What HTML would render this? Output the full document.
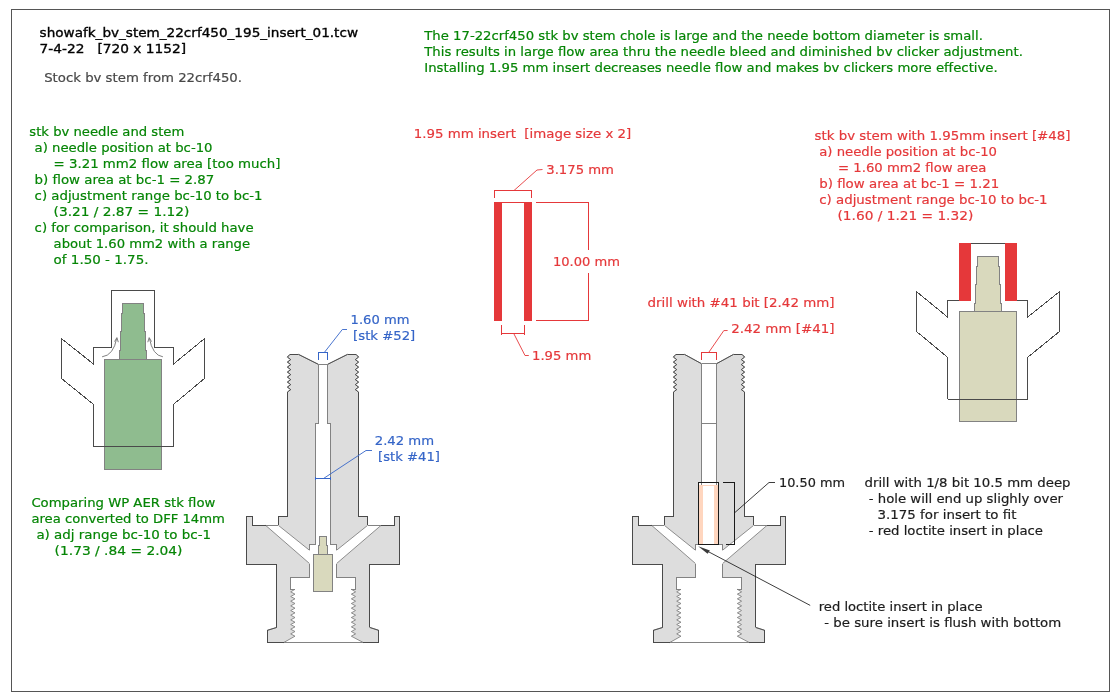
<!DOCTYPE html>
<html lang="en"><head><meta charset="utf-8"><title>showafk_bv_stem_22crf450_195_insert_01</title>
<style>html,body{margin:0;padding:0;background:#fff;}body{width:1120px;height:700px;overflow:hidden;}svg{display:block;will-change:transform;}text{font-family:"DejaVu Sans", "Liberation Sans", sans-serif;}</style>
</head><body>
<svg width="1120" height="700" viewBox="0 0 1120 700" shape-rendering="crispEdges">
<rect x="0" y="0" width="1120" height="700" fill="#ffffff"/>
<rect x="11.3" y="9.4" width="1098.4" height="682" fill="none" stroke="#555555" stroke-width="1"/>
<path d="M93.40 446.40 L93.40 404.30 L61.40 378.40 L61.40 338.50 L93.40 364.00 L93.40 347.10 L111.40 347.10 L111.40 290.40 L154.60 290.40 L154.60 347.10 L173.60 347.10 L173.60 364.00 L204.60 338.50 L204.60 378.40 L173.60 404.30 L173.60 446.40 L93.40 446.40" fill="none" stroke="#4a4a4a" stroke-width="1"/>
<path d="M122.50 303.40 L143.50 303.40 L143.50 313.00 L144.50 313.00 L144.50 331.50 L145.50 331.50 L145.50 350.00 L146.50 350.00 L146.50 359.10 L119.50 359.10 L119.50 350.00 L120.50 350.00 L120.50 331.50 L121.50 331.50 L121.50 313.00 L122.50 313.00 Z" fill="#8fbc8f" stroke="#828282" stroke-width="1"/>
<path d="M104.30 359.10 L161.80 359.10 L161.80 469.40 L104.30 469.40 Z" fill="#8fbc8f" stroke="#828282" stroke-width="1"/>
<path d="M93.40 446.40 L173.60 446.40" fill="none" stroke="#4a4a4a" stroke-width="1"/>
<path d="M102.1 356.8 Q113.5 355.5 116.8 338" fill="none" stroke="#7a7a7a" stroke-width="0.95" shape-rendering="geometricPrecision"/>
<path d="M114.6 341.6 L116.9 337.6 L118.3 342.2" fill="none" stroke="#7a7a7a" stroke-width="0.95" shape-rendering="geometricPrecision"/>
<path d="M162.9 356.8 Q152.6 355.5 149.3 338" fill="none" stroke="#7a7a7a" stroke-width="0.95" shape-rendering="geometricPrecision"/>
<path d="M151.5 341.6 L149.2 337.6 L147.8 342.2" fill="none" stroke="#7a7a7a" stroke-width="0.95" shape-rendering="geometricPrecision"/>
<path d="M947.50 399.40 L947.50 357.30 L916.40 331.40 L916.40 291.50 L947.50 317.00 L947.50 300.10 L966.40 300.10 L966.40 243.40 L1009.60 243.40 L1009.60 300.10 L1027.70 300.10 L1027.70 317.00 L1059.60 291.50 L1059.60 331.40 L1027.70 357.30 L1027.70 399.40 L947.50 399.40" fill="none" stroke="#4a4a4a" stroke-width="1"/>
<rect x="959.10" y="242.95" width="11.9" height="57.7" fill="#e5383a"/>
<rect x="1005.10" y="242.95" width="11.9" height="57.7" fill="#e5383a"/>
<path d="M977.50 256.40 L998.50 256.40 L998.50 266.00 L999.50 266.00 L999.50 284.50 L1000.50 284.50 L1000.50 303.00 L1001.50 303.00 L1001.50 311.10 L974.50 311.10 L974.50 303.00 L975.50 303.00 L975.50 284.50 L976.50 284.50 L976.50 266.00 L977.50 266.00 Z" fill="#d9d9bd" stroke="#828282" stroke-width="1"/>
<path d="M959.30 311.10 L1016.80 311.10 L1016.80 421.70 L959.30 421.70 Z" fill="#d9d9bd" stroke="#828282" stroke-width="1"/>
<path d="M947.50 399.40 L1027.70 399.40" fill="none" stroke="#4a4a4a" stroke-width="1"/>
<path d="M318.30 364.30 L298.30 354.30 L290.00 354.30 L287.40 357.10 L290.70 359.60 L287.40 362.10 L290.70 364.60 L287.40 367.10 L290.70 369.60 L287.40 372.10 L290.70 374.60 L287.40 377.10 L290.70 379.60 L287.40 382.10 L290.70 384.60 L287.40 387.10 L290.70 389.60 L287.40 392.10 L287.40 393.20 L287.40 516.40 L278.40 516.40 L278.40 525.40 L309.50 550.30 L309.50 544.40 L315.50 544.40 L315.50 423.30 L318.30 423.30 Z" fill="#dddddd" stroke="none"/>
<path d="M298.30 354.30 L290.00 354.30 M287.40 392.10 L287.40 393.20 L287.40 516.40 L278.40 516.40 L278.40 525.40 M309.50 550.30 L309.50 544.40 L315.50 544.40 L315.50 423.30 L318.30 423.30 L318.30 364.30" fill="none" stroke="#828282" stroke-width="1" stroke-linejoin="miter"/>
<path d="M318.30 364.30 L298.30 354.30 M290.00 354.30 L287.40 357.10 L290.70 359.60 L287.40 362.10 L290.70 364.60 L287.40 367.10 L290.70 369.60 L287.40 372.10 L290.70 374.60 L287.40 377.10 L290.70 379.60 L287.40 382.10 L290.70 384.60 L287.40 387.10 L290.70 389.60 L287.40 392.10 M278.40 525.40 L309.50 550.30" fill="none" stroke="#828282" stroke-width="0.9" stroke-linejoin="bevel" shape-rendering="geometricPrecision"/>
<path d="M327.70 364.30 L347.70 354.30 L356.00 354.30 L358.60 357.10 L355.30 359.60 L358.60 362.10 L355.30 364.60 L358.60 367.10 L355.30 369.60 L358.60 372.10 L355.30 374.60 L358.60 377.10 L355.30 379.60 L358.60 382.10 L355.30 384.60 L358.60 387.10 L355.30 389.60 L358.60 392.10 L358.60 393.20 L358.60 516.40 L367.60 516.40 L367.60 525.40 L336.50 550.30 L336.50 544.40 L330.50 544.40 L330.50 423.30 L327.70 423.30 Z" fill="#dddddd" stroke="none"/>
<path d="M347.70 354.30 L356.00 354.30 M358.60 392.10 L358.60 393.20 L358.60 516.40 L367.60 516.40 L367.60 525.40 M336.50 550.30 L336.50 544.40 L330.50 544.40 L330.50 423.30 L327.70 423.30 L327.70 364.30" fill="none" stroke="#828282" stroke-width="1" stroke-linejoin="miter"/>
<path d="M327.70 364.30 L347.70 354.30 M356.00 354.30 L358.60 357.10 L355.30 359.60 L358.60 362.10 L355.30 364.60 L358.60 367.10 L355.30 369.60 L358.60 372.10 L355.30 374.60 L358.60 377.10 L355.30 379.60 L358.60 382.10 L355.30 384.60 L358.60 387.10 L355.30 389.60 L358.60 392.10 M367.60 525.40 L336.50 550.30" fill="none" stroke="#828282" stroke-width="0.9" stroke-linejoin="bevel" shape-rendering="geometricPrecision"/>
<path d="M298.30 354.30 L290.00 354.30 M287.40 392.10 L287.40 393.20 L287.40 516.40 L278.40 516.40 L278.40 525.40" fill="none" stroke="#4a4a4a" stroke-width="1" stroke-linejoin="miter"/>
<path d="M318.30 364.30 L298.30 354.30 M290.00 354.30 L287.40 357.10 L290.70 359.60 L287.40 362.10 L290.70 364.60 L287.40 367.10 L290.70 369.60 L287.40 372.10 L290.70 374.60 L287.40 377.10 L290.70 379.60 L287.40 382.10 L290.70 384.60 L287.40 387.10 L290.70 389.60 L287.40 392.10" fill="none" stroke="#4a4a4a" stroke-width="0.9" stroke-linejoin="bevel" shape-rendering="geometricPrecision"/>
<path d="M347.70 354.30 L356.00 354.30 M358.60 392.10 L358.60 393.20 L358.60 516.40 L367.60 516.40 L367.60 525.40" fill="none" stroke="#4a4a4a" stroke-width="1" stroke-linejoin="miter"/>
<path d="M327.70 364.30 L347.70 354.30 M356.00 354.30 L358.60 357.10 L355.30 359.60 L358.60 362.10 L355.30 364.60 L358.60 367.10 L355.30 369.60 L358.60 372.10 L355.30 374.60 L358.60 377.10 L355.30 379.60 L358.60 382.10 L355.30 384.60 L358.60 387.10 L355.30 389.60 L358.60 392.10" fill="none" stroke="#4a4a4a" stroke-width="0.9" stroke-linejoin="bevel" shape-rendering="geometricPrecision"/>
<path d="M318.30 364.30 L327.70 364.30" stroke="#828282" stroke-width="1" fill="none"/>
<path d="M265.70 525.4 L278.40 525.4 M367.60 525.4 L381.00 525.4" stroke="#828282" stroke-width="1" fill="none"/>
<path d="M252.60 525.40 L252.60 516.40 L246.40 516.40 L246.40 564.30 L276.90 564.30 L276.90 627.40 L267.40 630.30 L267.40 642.60 L283.60 642.60 L295.00 636.20 L290.70 633.87 L295.00 631.53 L290.70 629.20 L295.00 626.86 L290.70 624.53 L295.00 622.19 L290.70 619.86 L295.00 617.52 L290.70 615.19 L295.00 612.85 L290.70 610.52 L295.00 608.18 L290.70 605.85 L295.00 603.51 L290.70 601.18 L295.00 598.84 L290.70 596.51 L295.00 594.17 L290.70 591.84 L295.00 589.30 L290.00 589.30 L290.00 577.40 L309.50 577.40 L309.50 563.50 L265.70 525.40 Z" fill="#dddddd" stroke="none"/>
<path d="M252.60 525.40 L252.60 516.40 L246.40 516.40 L246.40 564.30 L276.90 564.30 L276.90 627.40 M267.40 630.30 L267.40 642.60 L283.60 642.60 M295.00 589.30 L290.00 589.30 L290.00 577.40 L309.50 577.40 L309.50 563.50 M265.70 525.40 L252.60 525.40" fill="none" stroke="#828282" stroke-width="1" stroke-linejoin="miter"/>
<path d="M276.90 627.40 L267.40 630.30 M283.60 642.60 L295.00 636.20 L290.70 633.87 L295.00 631.53 L290.70 629.20 L295.00 626.86 L290.70 624.53 L295.00 622.19 L290.70 619.86 L295.00 617.52 L290.70 615.19 L295.00 612.85 L290.70 610.52 L295.00 608.18 L290.70 605.85 L295.00 603.51 L290.70 601.18 L295.00 598.84 L290.70 596.51 L295.00 594.17 L290.70 591.84 L295.00 589.30 M309.50 563.50 L265.70 525.40" fill="none" stroke="#828282" stroke-width="0.9" stroke-linejoin="bevel" shape-rendering="geometricPrecision"/>
<path d="M394.10 525.40 L394.10 516.40 L399.40 516.40 L399.40 564.30 L369.60 564.30 L369.60 627.40 L378.60 630.30 L378.60 642.60 L363.40 642.60 L351.30 636.20 L355.60 633.87 L351.30 631.53 L355.60 629.20 L351.30 626.86 L355.60 624.53 L351.30 622.19 L355.60 619.86 L351.30 617.52 L355.60 615.19 L351.30 612.85 L355.60 610.52 L351.30 608.18 L355.60 605.85 L351.30 603.51 L355.60 601.18 L351.30 598.84 L355.60 596.51 L351.30 594.17 L355.60 591.84 L351.30 589.30 L355.80 589.30 L355.80 577.40 L336.60 577.40 L336.60 563.50 L381.00 525.40 Z" fill="#dddddd" stroke="none"/>
<path d="M394.10 525.40 L394.10 516.40 L399.40 516.40 L399.40 564.30 L369.60 564.30 L369.60 627.40 M378.60 630.30 L378.60 642.60 L363.40 642.60 M351.30 589.30 L355.80 589.30 L355.80 577.40 L336.60 577.40 L336.60 563.50 M381.00 525.40 L394.10 525.40" fill="none" stroke="#828282" stroke-width="1" stroke-linejoin="miter"/>
<path d="M369.60 627.40 L378.60 630.30 M363.40 642.60 L351.30 636.20 L355.60 633.87 L351.30 631.53 L355.60 629.20 L351.30 626.86 L355.60 624.53 L351.30 622.19 L355.60 619.86 L351.30 617.52 L355.60 615.19 L351.30 612.85 L355.60 610.52 L351.30 608.18 L355.60 605.85 L351.30 603.51 L355.60 601.18 L351.30 598.84 L355.60 596.51 L351.30 594.17 L355.60 591.84 L351.30 589.30 M336.60 563.50 L381.00 525.40" fill="none" stroke="#828282" stroke-width="0.9" stroke-linejoin="bevel" shape-rendering="geometricPrecision"/>
<path d="M265.70 525.40 L252.60 525.40 L252.60 516.40 L246.40 516.40 L246.40 564.30 L276.90 564.30 L276.90 627.40 M267.40 630.30 L267.40 642.60 L283.60 642.60" fill="none" stroke="#4a4a4a" stroke-width="1" stroke-linejoin="miter"/>
<path d="M276.90 627.40 L267.40 630.30" fill="none" stroke="#4a4a4a" stroke-width="0.9" stroke-linejoin="bevel" shape-rendering="geometricPrecision"/>
<path d="M381.00 525.40 L394.10 525.40 L394.10 516.40 L399.40 516.40 L399.40 564.30 L369.60 564.30 L369.60 627.40 M378.60 630.30 L378.60 642.60 L363.40 642.60" fill="none" stroke="#4a4a4a" stroke-width="1" stroke-linejoin="miter"/>
<path d="M369.60 627.40 L378.60 630.30" fill="none" stroke="#4a4a4a" stroke-width="0.9" stroke-linejoin="bevel" shape-rendering="geometricPrecision"/>
<path d="M267.40 642.6 L378.60 642.6" stroke="#828282" stroke-width="1" fill="none"/>
<path d="M267.40 642.6 L283.60 642.6 M363.40 642.6 L378.60 642.6" stroke="#4a4a4a" stroke-width="1" fill="none"/>
<path d="M319.40 536.40 L326.60 536.40 L326.60 545.40 L327.50 545.40 L327.50 554.30 L332.90 554.30 L332.90 591.40 L313.40 591.40 L313.40 554.30 L318.50 554.30 L318.50 545.40 L319.40 545.40 Z" fill="#d9d9bd" stroke="#828282" stroke-width="1"/>
<path d="M313.40 554.3 L332.90 554.3" stroke="#828282" stroke-width="1" fill="none"/>
<path d="M701.50 363.70 L684.30 354.30 L676.00 354.30 L673.40 357.10 L676.70 359.60 L673.40 362.10 L676.70 364.60 L673.40 367.10 L676.70 369.60 L673.40 372.10 L676.70 374.60 L673.40 377.10 L676.70 379.60 L673.40 382.10 L676.70 384.60 L673.40 387.10 L676.70 389.60 L673.40 392.10 L673.40 393.20 L673.40 516.40 L664.40 516.40 L664.40 525.40 L695.50 550.30 L695.50 544.40 L698.60 544.40 L698.60 482.40 L701.50 482.40 Z" fill="#dddddd" stroke="none"/>
<path d="M684.30 354.30 L676.00 354.30 M673.40 392.10 L673.40 393.20 L673.40 516.40 L664.40 516.40 L664.40 525.40 M695.50 550.30 L695.50 544.40 L698.60 544.40 L698.60 482.40 L701.50 482.40 L701.50 363.70" fill="none" stroke="#828282" stroke-width="1" stroke-linejoin="miter"/>
<path d="M701.50 363.70 L684.30 354.30 M676.00 354.30 L673.40 357.10 L676.70 359.60 L673.40 362.10 L676.70 364.60 L673.40 367.10 L676.70 369.60 L673.40 372.10 L676.70 374.60 L673.40 377.10 L676.70 379.60 L673.40 382.10 L676.70 384.60 L673.40 387.10 L676.70 389.60 L673.40 392.10 M664.40 525.40 L695.50 550.30" fill="none" stroke="#828282" stroke-width="0.9" stroke-linejoin="bevel" shape-rendering="geometricPrecision"/>
<path d="M716.50 363.70 L733.70 354.30 L742.00 354.30 L744.60 357.10 L741.30 359.60 L744.60 362.10 L741.30 364.60 L744.60 367.10 L741.30 369.60 L744.60 372.10 L741.30 374.60 L744.60 377.10 L741.30 379.60 L744.60 382.10 L741.30 384.60 L744.60 387.10 L741.30 389.60 L744.60 392.10 L744.60 393.20 L744.60 516.40 L753.60 516.40 L753.60 525.40 L722.50 550.30 L722.50 544.40 L718.20 544.40 L718.20 482.40 L716.50 482.40 Z" fill="#dddddd" stroke="none"/>
<path d="M733.70 354.30 L742.00 354.30 M744.60 392.10 L744.60 393.20 L744.60 516.40 L753.60 516.40 L753.60 525.40 M722.50 550.30 L722.50 544.40 L718.20 544.40 L718.20 482.40 L716.50 482.40 L716.50 363.70" fill="none" stroke="#828282" stroke-width="1" stroke-linejoin="miter"/>
<path d="M716.50 363.70 L733.70 354.30 M742.00 354.30 L744.60 357.10 L741.30 359.60 L744.60 362.10 L741.30 364.60 L744.60 367.10 L741.30 369.60 L744.60 372.10 L741.30 374.60 L744.60 377.10 L741.30 379.60 L744.60 382.10 L741.30 384.60 L744.60 387.10 L741.30 389.60 L744.60 392.10 M753.60 525.40 L722.50 550.30" fill="none" stroke="#828282" stroke-width="0.9" stroke-linejoin="bevel" shape-rendering="geometricPrecision"/>
<path d="M684.30 354.30 L676.00 354.30 M673.40 392.10 L673.40 393.20 L673.40 516.40 L664.40 516.40 L664.40 525.40" fill="none" stroke="#4a4a4a" stroke-width="1" stroke-linejoin="miter"/>
<path d="M701.50 363.70 L684.30 354.30 M676.00 354.30 L673.40 357.10 L676.70 359.60 L673.40 362.10 L676.70 364.60 L673.40 367.10 L676.70 369.60 L673.40 372.10 L676.70 374.60 L673.40 377.10 L676.70 379.60 L673.40 382.10 L676.70 384.60 L673.40 387.10 L676.70 389.60 L673.40 392.10" fill="none" stroke="#4a4a4a" stroke-width="0.9" stroke-linejoin="bevel" shape-rendering="geometricPrecision"/>
<path d="M733.70 354.30 L742.00 354.30 M744.60 392.10 L744.60 393.20 L744.60 516.40 L753.60 516.40 L753.60 525.40" fill="none" stroke="#4a4a4a" stroke-width="1" stroke-linejoin="miter"/>
<path d="M716.50 363.70 L733.70 354.30 M742.00 354.30 L744.60 357.10 L741.30 359.60 L744.60 362.10 L741.30 364.60 L744.60 367.10 L741.30 369.60 L744.60 372.10 L741.30 374.60 L744.60 377.10 L741.30 379.60 L744.60 382.10 L741.30 384.60 L744.60 387.10 L741.30 389.60 L744.60 392.10" fill="none" stroke="#4a4a4a" stroke-width="0.9" stroke-linejoin="bevel" shape-rendering="geometricPrecision"/>
<path d="M701.50 363.70 L716.50 363.70" stroke="#828282" stroke-width="1" fill="none"/>
<path d="M651.70 525.4 L664.40 525.4 M753.60 525.4 L767.00 525.4" stroke="#828282" stroke-width="1" fill="none"/>
<path d="M638.60 525.40 L638.60 516.40 L632.40 516.40 L632.40 564.30 L662.90 564.30 L662.90 627.40 L653.40 630.30 L653.40 642.60 L669.60 642.60 L681.00 636.20 L676.70 633.87 L681.00 631.53 L676.70 629.20 L681.00 626.86 L676.70 624.53 L681.00 622.19 L676.70 619.86 L681.00 617.52 L676.70 615.19 L681.00 612.85 L676.70 610.52 L681.00 608.18 L676.70 605.85 L681.00 603.51 L676.70 601.18 L681.00 598.84 L676.70 596.51 L681.00 594.17 L676.70 591.84 L681.00 589.30 L676.00 589.30 L676.00 577.40 L695.50 577.40 L695.50 563.50 L651.70 525.40 Z" fill="#dddddd" stroke="none"/>
<path d="M638.60 525.40 L638.60 516.40 L632.40 516.40 L632.40 564.30 L662.90 564.30 L662.90 627.40 M653.40 630.30 L653.40 642.60 L669.60 642.60 M681.00 589.30 L676.00 589.30 L676.00 577.40 L695.50 577.40 L695.50 563.50 M651.70 525.40 L638.60 525.40" fill="none" stroke="#828282" stroke-width="1" stroke-linejoin="miter"/>
<path d="M662.90 627.40 L653.40 630.30 M669.60 642.60 L681.00 636.20 L676.70 633.87 L681.00 631.53 L676.70 629.20 L681.00 626.86 L676.70 624.53 L681.00 622.19 L676.70 619.86 L681.00 617.52 L676.70 615.19 L681.00 612.85 L676.70 610.52 L681.00 608.18 L676.70 605.85 L681.00 603.51 L676.70 601.18 L681.00 598.84 L676.70 596.51 L681.00 594.17 L676.70 591.84 L681.00 589.30 M695.50 563.50 L651.70 525.40" fill="none" stroke="#828282" stroke-width="0.9" stroke-linejoin="bevel" shape-rendering="geometricPrecision"/>
<path d="M780.10 525.40 L780.10 516.40 L785.40 516.40 L785.40 564.30 L755.60 564.30 L755.60 627.40 L764.60 630.30 L764.60 642.60 L749.40 642.60 L737.30 636.20 L741.60 633.87 L737.30 631.53 L741.60 629.20 L737.30 626.86 L741.60 624.53 L737.30 622.19 L741.60 619.86 L737.30 617.52 L741.60 615.19 L737.30 612.85 L741.60 610.52 L737.30 608.18 L741.60 605.85 L737.30 603.51 L741.60 601.18 L737.30 598.84 L741.60 596.51 L737.30 594.17 L741.60 591.84 L737.30 589.30 L741.80 589.30 L741.80 577.40 L722.60 577.40 L722.60 563.50 L767.00 525.40 Z" fill="#dddddd" stroke="none"/>
<path d="M780.10 525.40 L780.10 516.40 L785.40 516.40 L785.40 564.30 L755.60 564.30 L755.60 627.40 M764.60 630.30 L764.60 642.60 L749.40 642.60 M737.30 589.30 L741.80 589.30 L741.80 577.40 L722.60 577.40 L722.60 563.50 M767.00 525.40 L780.10 525.40" fill="none" stroke="#828282" stroke-width="1" stroke-linejoin="miter"/>
<path d="M755.60 627.40 L764.60 630.30 M749.40 642.60 L737.30 636.20 L741.60 633.87 L737.30 631.53 L741.60 629.20 L737.30 626.86 L741.60 624.53 L737.30 622.19 L741.60 619.86 L737.30 617.52 L741.60 615.19 L737.30 612.85 L741.60 610.52 L737.30 608.18 L741.60 605.85 L737.30 603.51 L741.60 601.18 L737.30 598.84 L741.60 596.51 L737.30 594.17 L741.60 591.84 L737.30 589.30 M722.60 563.50 L767.00 525.40" fill="none" stroke="#828282" stroke-width="0.9" stroke-linejoin="bevel" shape-rendering="geometricPrecision"/>
<path d="M651.70 525.40 L638.60 525.40 L638.60 516.40 L632.40 516.40 L632.40 564.30 L662.90 564.30 L662.90 627.40 M653.40 630.30 L653.40 642.60 L669.60 642.60" fill="none" stroke="#4a4a4a" stroke-width="1" stroke-linejoin="miter"/>
<path d="M662.90 627.40 L653.40 630.30" fill="none" stroke="#4a4a4a" stroke-width="0.9" stroke-linejoin="bevel" shape-rendering="geometricPrecision"/>
<path d="M767.00 525.40 L780.10 525.40 L780.10 516.40 L785.40 516.40 L785.40 564.30 L755.60 564.30 L755.60 627.40 M764.60 630.30 L764.60 642.60 L749.40 642.60" fill="none" stroke="#4a4a4a" stroke-width="1" stroke-linejoin="miter"/>
<path d="M755.60 627.40 L764.60 630.30" fill="none" stroke="#4a4a4a" stroke-width="0.9" stroke-linejoin="bevel" shape-rendering="geometricPrecision"/>
<path d="M653.40 642.6 L764.60 642.6" stroke="#828282" stroke-width="1" fill="none"/>
<path d="M653.40 642.6 L669.60 642.6 M749.40 642.6 L764.60 642.6" stroke="#4a4a4a" stroke-width="1" fill="none"/>
<path d="M701.50 423.3 L716.50 423.3" stroke="#828282" stroke-width="1" fill="none"/>
<path d="M701.50 482.4 L701.50 485.2 M716.50 482.4 L716.50 485.2" stroke="#828282" stroke-width="1" fill="none"/>
<rect x="699.15" y="485.0" width="18.65" height="59.4" fill="#ffd6bf"/>
<rect x="702.95" y="485.8" width="11.15" height="58.6" fill="#ffffff"/>
<rect x="698.60" y="482.4" width="19.60" height="62.0" fill="none" stroke="#1a1a1a" stroke-width="1.15"/>
<g fill="none" stroke="#3565c8" stroke-width="1">
<path d="M318.4 359.8 L318.4 352.5 L327.5 352.5 L327.5 359.8"/>
<path d="M324.3 352.5 L342.3 329.5 L347 329.5" stroke-width="0.9" shape-rendering="geometricPrecision"/>
<path d="M315.2 478.2 L330.8 478.2 M315.4 476.6 L315.4 479.8 M330.6 476.6 L330.6 479.8"/>
<path d="M324 478.2 L366 450.5 L372 450.5" stroke-width="0.9" shape-rendering="geometricPrecision"/>
</g>
<text x="350.60" y="323.75" fill="#3565c8" stroke="#3565c8" stroke-width="0.2" font-size="13" textLength="58.80" lengthAdjust="spacingAndGlyphs" xml:space="preserve">1.60 mm</text>
<text x="353.10" y="340.00" fill="#3565c8" stroke="#3565c8" stroke-width="0.2" font-size="13" textLength="62.15" lengthAdjust="spacingAndGlyphs" xml:space="preserve">[stk #52]</text>
<text x="374.75" y="444.75" fill="#3565c8" stroke="#3565c8" stroke-width="0.2" font-size="13" textLength="59.35" lengthAdjust="spacingAndGlyphs" xml:space="preserve">2.42 mm</text>
<text x="378.10" y="461.25" fill="#3565c8" stroke="#3565c8" stroke-width="0.2" font-size="13" textLength="61.90" lengthAdjust="spacingAndGlyphs" xml:space="preserve">[stk #41]</text>
<rect x="494.0" y="202.0" width="7.8" height="118.9" fill="#e5383a"/>
<rect x="524.2" y="202.0" width="7.8" height="118.9" fill="#e5383a"/>
<g fill="none" stroke="#e5383a" stroke-width="1">
<path d="M494 202.4 L532 202.4"/>
<path d="M494.4 197.6 L494.4 190.5 L531.6 190.5 L531.6 197.6"/>
<path d="M514 190.5 L537 170 L542.5 169.5" stroke-width="0.9" shape-rendering="geometricPrecision"/>
<path d="M536.3 202.3 L588.6 202.3 L588.6 250 M588.6 272.5 L588.6 320.4 L536.3 320.4"/>
<path d="M501.6 325.2 L501.6 335 M524.5 325.2 L524.5 335 M501.6 333.6 L524.5 333.6"/>
<path d="M513.8 333.6 L525 355.5 L528.8 355.5" stroke-width="0.9" shape-rendering="geometricPrecision"/>
</g>
<text x="413.75" y="137.50" fill="#e5383a" stroke="#e5383a" stroke-width="0.2" font-size="13" textLength="217.50" lengthAdjust="spacingAndGlyphs" xml:space="preserve">1.95 mm insert  [image size x 2]</text>
<text x="546.25" y="174.00" fill="#e5383a" stroke="#e5383a" stroke-width="0.2" font-size="13" textLength="67.75" lengthAdjust="spacingAndGlyphs" xml:space="preserve">3.175 mm</text>
<text x="553.00" y="265.50" fill="#e5383a" stroke="#e5383a" stroke-width="0.2" font-size="13" textLength="67.00" lengthAdjust="spacingAndGlyphs" xml:space="preserve">10.00 mm</text>
<text x="532.00" y="359.50" fill="#e5383a" stroke="#e5383a" stroke-width="0.2" font-size="13" textLength="59.25" lengthAdjust="spacingAndGlyphs" xml:space="preserve">1.95 mm</text>
<g fill="none" stroke="#e5383a" stroke-width="1">
<path d="M701.5 359.5 L701.5 352 L716.3 352 L716.3 359.5"/>
<path d="M709 352 L723.8 330.6 L727.6 330.5" stroke-width="0.9" shape-rendering="geometricPrecision"/>
</g>
<text x="647.50" y="306.50" fill="#e5383a" stroke="#e5383a" stroke-width="0.2" font-size="13" textLength="187.00" lengthAdjust="spacingAndGlyphs" xml:space="preserve">drill with #41 bit [2.42 mm]</text>
<text x="731.25" y="333.00" fill="#e5383a" stroke="#e5383a" stroke-width="0.2" font-size="13" textLength="103.25" lengthAdjust="spacingAndGlyphs" xml:space="preserve">2.42 mm [#41]</text>
<g fill="none" stroke="#1a1a1a" stroke-width="1">
<path d="M722.9 482.4 L734.8 482.4 L734.8 544.4 L726 544.4" stroke-width="1.15"/>
<path d="M734.8 512.6 L769 482.5 L775 482.5" stroke-width="0.85" shape-rendering="geometricPrecision"/>
<path d="M705 549.9 L810.2 605.4" stroke-width="0.85" shape-rendering="geometricPrecision"/>
<path d="M698.2 546.3 L709.9 550.5 L707.6 553.7 Z" fill="#3a3a3a" stroke="none" shape-rendering="geometricPrecision"/>
</g>
<text x="779.00" y="486.60" fill="#1c1c1c" stroke="#1c1c1c" stroke-width="0.2" font-size="13" textLength="66.00" lengthAdjust="spacingAndGlyphs" xml:space="preserve">10.50 mm</text>
<text x="864.50" y="486.60" fill="#1c1c1c" stroke="#1c1c1c" stroke-width="0.2" font-size="13" textLength="206.00" lengthAdjust="spacingAndGlyphs" xml:space="preserve">drill with 1/8 bit 10.5 mm deep</text>
<text x="868.75" y="502.60" fill="#1c1c1c" stroke="#1c1c1c" stroke-width="0.2" font-size="13" textLength="194.25" lengthAdjust="spacingAndGlyphs" xml:space="preserve">- hole will end up slighly over</text>
<text x="877.50" y="518.60" fill="#1c1c1c" stroke="#1c1c1c" stroke-width="0.2" font-size="13" textLength="139.00" lengthAdjust="spacingAndGlyphs" xml:space="preserve">3.175 for insert to fit</text>
<text x="868.75" y="534.60" fill="#1c1c1c" stroke="#1c1c1c" stroke-width="0.2" font-size="13" textLength="174.25" lengthAdjust="spacingAndGlyphs" xml:space="preserve">- red loctite insert in place</text>
<text x="818.75" y="610.50" fill="#1c1c1c" stroke="#1c1c1c" stroke-width="0.2" font-size="13" textLength="163.75" lengthAdjust="spacingAndGlyphs" xml:space="preserve">red loctite insert in place</text>
<text x="824.25" y="626.80" fill="#1c1c1c" stroke="#1c1c1c" stroke-width="0.2" font-size="13" textLength="237.00" lengthAdjust="spacingAndGlyphs" xml:space="preserve">- be sure insert is flush with bottom</text>
<text x="39.60" y="36.70" fill="#000000" stroke="#000000" stroke-width="0.35" font-size="13" textLength="318.40" lengthAdjust="spacingAndGlyphs" xml:space="preserve">showafk_bv_stem_22crf450_195_insert_01.tcw</text>
<text x="39.60" y="52.80" fill="#000000" stroke="#000000" stroke-width="0.35" font-size="13" textLength="146.40" lengthAdjust="spacingAndGlyphs" xml:space="preserve">7-4-22   [720 x 1152]</text>
<text x="44.20" y="81.70" fill="#484848" stroke="#484848" stroke-width="0.2" font-size="13" textLength="197.80" lengthAdjust="spacingAndGlyphs" xml:space="preserve">Stock bv stem from 22crf450.</text>
<text x="424.30" y="40.00" fill="#058505" stroke="#058505" stroke-width="0.2" font-size="13" textLength="558.60" lengthAdjust="spacingAndGlyphs" xml:space="preserve">The 17-22crf450 stk bv stem chole is large and the neede bottom diameter is small.</text>
<text x="424.30" y="56.00" fill="#058505" stroke="#058505" stroke-width="0.2" font-size="13" textLength="598.60" lengthAdjust="spacingAndGlyphs" xml:space="preserve">This results in large flow area thru the needle bleed and diminished bv clicker adjustment.</text>
<text x="424.30" y="72.20" fill="#058505" stroke="#058505" stroke-width="0.2" font-size="13" textLength="573.40" lengthAdjust="spacingAndGlyphs" xml:space="preserve">Installing 1.95 mm insert decreases needle flow and makes bv clickers more effective.</text>
<text x="29.30" y="136.40" fill="#058505" stroke="#058505" stroke-width="0.2" font-size="13" textLength="155.00" lengthAdjust="spacingAndGlyphs" xml:space="preserve">stk bv needle and stem</text>
<text x="34.60" y="152.30" fill="#058505" stroke="#058505" stroke-width="0.2" font-size="13" textLength="177.90" lengthAdjust="spacingAndGlyphs" xml:space="preserve">a) needle position at bc-10</text>
<text x="53.60" y="168.20" fill="#058505" stroke="#058505" stroke-width="0.2" font-size="13" textLength="226.80" lengthAdjust="spacingAndGlyphs" xml:space="preserve">= 3.21 mm2 flow area [too much]</text>
<text x="34.60" y="184.10" fill="#058505" stroke="#058505" stroke-width="0.2" font-size="13" textLength="179.70" lengthAdjust="spacingAndGlyphs" xml:space="preserve">b) flow area at bc-1 = 2.87</text>
<text x="34.60" y="200.00" fill="#058505" stroke="#058505" stroke-width="0.2" font-size="13" textLength="227.90" lengthAdjust="spacingAndGlyphs" xml:space="preserve">c) adjustment range bc-10 to bc-1</text>
<text x="53.60" y="215.90" fill="#058505" stroke="#058505" stroke-width="0.2" font-size="13" textLength="135.70" lengthAdjust="spacingAndGlyphs" xml:space="preserve">(3.21 / 2.87 = 1.12)</text>
<text x="34.60" y="231.80" fill="#058505" stroke="#058505" stroke-width="0.2" font-size="13" textLength="219.00" lengthAdjust="spacingAndGlyphs" xml:space="preserve">c) for comparison, it should have</text>
<text x="53.60" y="247.70" fill="#058505" stroke="#058505" stroke-width="0.2" font-size="13" textLength="196.40" lengthAdjust="spacingAndGlyphs" xml:space="preserve">about 1.60 mm2 with a range</text>
<text x="53.60" y="263.60" fill="#058505" stroke="#058505" stroke-width="0.2" font-size="13" textLength="94.90" lengthAdjust="spacingAndGlyphs" xml:space="preserve">of 1.50 - 1.75.</text>
<text x="31.40" y="506.80" fill="#058505" stroke="#058505" stroke-width="0.2" font-size="13" textLength="183.90" lengthAdjust="spacingAndGlyphs" xml:space="preserve">Comparing WP AER stk flow</text>
<text x="31.40" y="522.60" fill="#058505" stroke="#058505" stroke-width="0.2" font-size="13" textLength="193.50" lengthAdjust="spacingAndGlyphs" xml:space="preserve">area converted to DFF 14mm</text>
<text x="36.40" y="538.90" fill="#058505" stroke="#058505" stroke-width="0.2" font-size="13" textLength="174.60" lengthAdjust="spacingAndGlyphs" xml:space="preserve">a) adj range bc-10 to bc-1</text>
<text x="54.60" y="555.00" fill="#058505" stroke="#058505" stroke-width="0.2" font-size="13" textLength="127.90" lengthAdjust="spacingAndGlyphs" xml:space="preserve">(1.73 / .84 = 2.04)</text>
<text x="814.50" y="139.50" fill="#e5383a" stroke="#e5383a" stroke-width="0.2" font-size="13" textLength="256.00" lengthAdjust="spacingAndGlyphs" xml:space="preserve">stk bv stem with 1.95mm insert [#48]</text>
<text x="819.25" y="155.70" fill="#e5383a" stroke="#e5383a" stroke-width="0.2" font-size="13" textLength="177.75" lengthAdjust="spacingAndGlyphs" xml:space="preserve">a) needle position at bc-10</text>
<text x="838.00" y="171.80" fill="#e5383a" stroke="#e5383a" stroke-width="0.2" font-size="13" textLength="148.25" lengthAdjust="spacingAndGlyphs" xml:space="preserve">= 1.60 mm2 flow area</text>
<text x="819.25" y="187.90" fill="#e5383a" stroke="#e5383a" stroke-width="0.2" font-size="13" textLength="180.00" lengthAdjust="spacingAndGlyphs" xml:space="preserve">b) flow area at bc-1 = 1.21</text>
<text x="819.25" y="203.90" fill="#e5383a" stroke="#e5383a" stroke-width="0.2" font-size="13" textLength="228.25" lengthAdjust="spacingAndGlyphs" xml:space="preserve">c) adjustment range bc-10 to bc-1</text>
<text x="837.50" y="220.00" fill="#e5383a" stroke="#e5383a" stroke-width="0.2" font-size="13" textLength="135.75" lengthAdjust="spacingAndGlyphs" xml:space="preserve">(1.60 / 1.21 = 1.32)</text>
</svg>
</body></html>
